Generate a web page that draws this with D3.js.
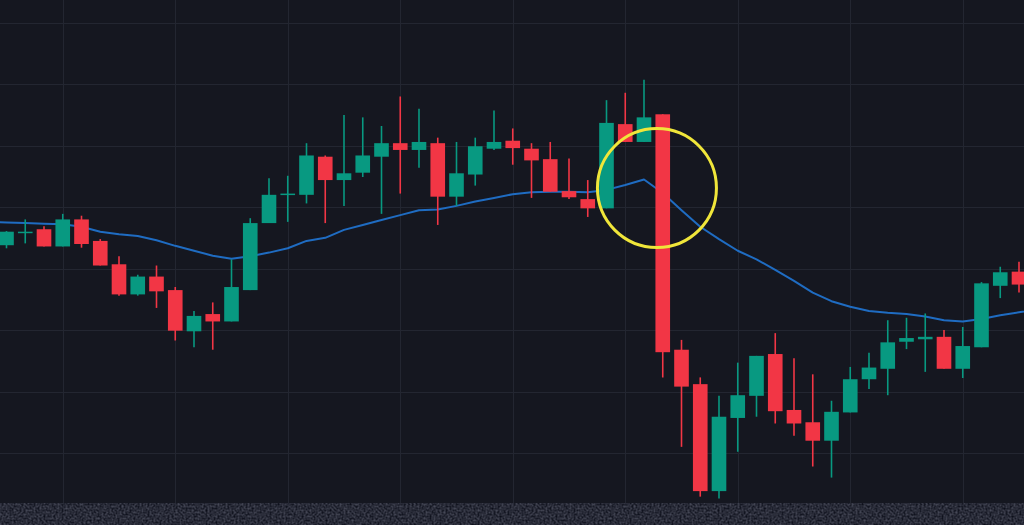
<!DOCTYPE html>
<html>
<head>
<meta charset="utf-8">
<script src="https://cdn.jsdelivr.net/npm/d3@7"></script>
<style>
  html, body { margin: 0; padding: 0; background: #151720; }
  #chart { width: 1024px; height: 525px; }
</style>
</head>
<body>
<div id="chart"></div>
<script>
var width = 1024;
var height = 525;
var plotBottom = 503;

// OHLC per session (price units)
var opens  = [133.8, 135.8, 136.4, 133.6, 138.0, 134.5, 130.7, 125.8, 128.7, 126.5,
              119.8, 122.6, 121.4, 126.5, 137.4, 142.0, 142.0, 148.2, 144.4, 145.6,
              148.2, 150.4, 149.3, 150.4, 141.7, 145.3, 149.5, 150.8, 149.5, 147.8,
              142.6, 141.3, 139.8, 153.5, 150.6, 155.1, 116.8, 111.2, 93.8, 105.7,
              109.3, 116.1, 107.0, 105.0, 102.0, 106.6, 112.0, 113.7, 118.1, 118.5,
              118.9, 113.7, 117.2, 127.2, 129.5];
var highs  = [136.1, 138.0, 136.9, 138.9, 138.6, 134.8, 132.0, 129.0, 130.5, 127.0,
              123.1, 124.5, 131.5, 138.2, 144.7, 145.1, 150.4, 148.4, 155.0, 154.6,
              153.2, 158.0, 156.0, 151.3, 150.6, 151.3, 155.7, 152.8, 150.4, 150.6,
              147.9, 144.4, 157.4, 158.6, 160.7, 155.1, 118.4, 112.3, 109.3, 114.7,
              115.8, 119.5, 115.4, 112.8, 108.5, 114.0, 116.3, 121.6, 122.0, 122.7,
              120.0, 120.5, 127.8, 130.3, 131.1];
var lows   = [133.3, 134.1, 133.6, 133.6, 133.4, 130.5, 125.6, 125.6, 123.6, 118.3,
              117.2, 116.8, 121.4, 126.5, 137.4, 137.6, 140.6, 137.4, 140.2, 144.9,
              138.9, 142.2, 146.4, 137.1, 140.2, 143.5, 149.3, 146.9, 141.5, 142.5,
              141.3, 138.4, 139.8, 150.6, 150.6, 112.3, 101.0, 92.9, 92.6, 100.2,
              105.9, 104.8, 102.8, 97.8, 96.0, 106.6, 110.4, 109.4, 116.9, 113.2,
              113.7, 112.2, 117.2, 125.2, 126.1];
var closes = [136.0, 136.0, 133.6, 138.0, 134.0, 130.5, 125.8, 128.7, 126.3, 119.9,
              122.3, 121.4, 127.0, 137.4, 142.0, 142.2, 148.4, 144.4, 145.5, 148.4,
              150.4, 149.3, 150.6, 141.7, 145.5, 149.9, 150.6, 149.6, 147.6, 142.5,
              141.6, 139.8, 153.7, 150.6, 154.6, 116.4, 110.8, 93.8, 105.9, 109.4,
              115.8, 106.8, 104.8, 102.0, 106.7, 112.0, 113.9, 118.0, 118.7, 118.9,
              113.7, 117.4, 127.6, 129.4, 127.4];

// moving average line; starts one session before the first visible candle
var maStart = -1;
var movingAvg = [137.6, 137.5, 137.4, 137.3, 137.2, 136.8, 136.0, 135.6, 135.3, 134.6, 133.7,
                 132.9, 132.1, 131.6, 132.0, 132.6, 133.3, 134.5, 135.0, 136.3, 137.1,
                 137.9, 138.7, 139.5, 139.6, 140.2, 140.9, 141.5, 142.1, 142.4, 142.5,
                 142.5, 142.4, 142.8, 143.6, 144.5, 142.3, 139.5, 136.8, 134.8, 132.9,
                 131.5, 129.8, 128.0, 126.1, 124.7, 123.8, 123.1, 122.8, 122.6, 122.2,
                 121.6, 121.4, 121.8, 122.4, 122.9, 123.4];

var priceTicks = [100, 110, 120, 130, 140, 150, 160, 170];
var timeTicks = [3, 9, 15, 21, 27, 33, 39, 45, 51];

// annotation circle: centre in (session, price), radius in px
var highlight = { i: 34.69, price: 143.1, r: 59.5 };

var colors = { up: '#089981', down: '#f23645', ma: '#1f6cc2', grid: '#232631', circle: '#f0e63a' };

var data = opens.map(function(o, i) {
	return { i: i, open: o, high: highs[i], low: lows[i], close: closes[i] };
});
var maData = movingAvg.map(function(v, k) { return { i: k + maStart, ma: v }; });

var x = d3.scaleLinear()
	.domain([0, data.length - 1])
	.range([6.5, 1019]);

var y = d3.scaleLinear()
	.domain([100, 170])
	.range([453, 22.7]);

var step = x(1) - x(0);
var bodyWidth = step * 0.78;

var svg = d3.select('#chart').append('svg')
	.attr('width', width)
	.attr('height', height);

// noise strip filter
var defs = svg.append('defs');
var noise = defs.append('filter').attr('id', 'noise')
	.attr('x', 0).attr('y', 0).attr('width', '100%').attr('height', '100%')
	.attr('color-interpolation-filters', 'sRGB');
noise.append('feTurbulence')
	.attr('type', 'fractalNoise')
	.attr('baseFrequency', 0.5)
	.attr('numOctaves', 2)
	.attr('seed', 3);
noise.append('feColorMatrix')
	.attr('type', 'matrix')
	.attr('values', '0.36 0 0 0 -0.02  0.36 0 0 0 -0.01  0.38 0 0 0 0.03  0 0 0 0 1');

svg.append('rect')
	.attr('width', width)
	.attr('height', height)
	.attr('fill', '#151720');

svg.append('clipPath').attr('id', 'plot')
	.append('rect').attr('width', width).attr('height', plotBottom);

// grid
var grid = svg.append('g').attr('class', 'grid');
grid.selectAll('.hline')
	.data(priceTicks)
	.enter().append('line')
	.attr('x1', 0).attr('x2', width)
	.attr('y1', function(d) { return Math.round(y(d)) + 0.5; })
	.attr('y2', function(d) { return Math.round(y(d)) + 0.5; })
	.attr('stroke', colors.grid);
grid.selectAll('.vline')
	.data(timeTicks)
	.enter().append('line')
	.attr('x1', function(d) { return Math.round(x(d)) + 0.5; })
	.attr('x2', function(d) { return Math.round(x(d)) + 0.5; })
	.attr('y1', 0).attr('y2', plotBottom)
	.attr('stroke', colors.grid);

var plot = svg.append('g').attr('clip-path', 'url(#plot)');

// moving average
var line = d3.line()
	.x(function(d) { return x(d.i); })
	.y(function(d) { return y(d.ma); });

plot.append('path')
	.datum(maData)
	.attr('fill', 'none')
	.attr('stroke', colors.ma)
	.attr('stroke-width', 2)
	.attr('stroke-linejoin', 'round')
	.attr('d', line);

// candles
var candle = plot.selectAll('.candle')
	.data(data)
	.enter().append('g')
	.attr('class', 'candle')
	.attr('fill', function(d) { return d.close >= d.open ? colors.up : colors.down; })
	.attr('stroke', function(d) { return d.close >= d.open ? colors.up : colors.down; });

candle.append('line')
	.attr('x1', function(d) { return x(d.i); })
	.attr('x2', function(d) { return x(d.i); })
	.attr('y1', function(d) { return y(d.high); })
	.attr('y2', function(d) { return y(d.low); })
	.attr('stroke-width', 1.6);

candle.append('rect')
	.attr('x', function(d) { return x(d.i) - bodyWidth / 2; })
	.attr('width', bodyWidth)
	.attr('y', function(d) { return y(Math.max(d.open, d.close)); })
	.attr('height', function(d) { return Math.max(1.5, Math.abs(y(d.open) - y(d.close))); })
	.attr('stroke', 'none');

// highlight circle around the big drop
plot.append('circle')
	.attr('cx', x(highlight.i))
	.attr('cy', y(highlight.price))
	.attr('r', highlight.r)
	.attr('fill', 'none')
	.attr('stroke', colors.circle)
	.attr('stroke-width', 3);

// textured strip at the bottom
svg.append('rect')
	.attr('x', 0)
	.attr('y', plotBottom)
	.attr('width', width)
	.attr('height', height - plotBottom)
	.attr('filter', 'url(#noise)');
</script>
</body>
</html>
